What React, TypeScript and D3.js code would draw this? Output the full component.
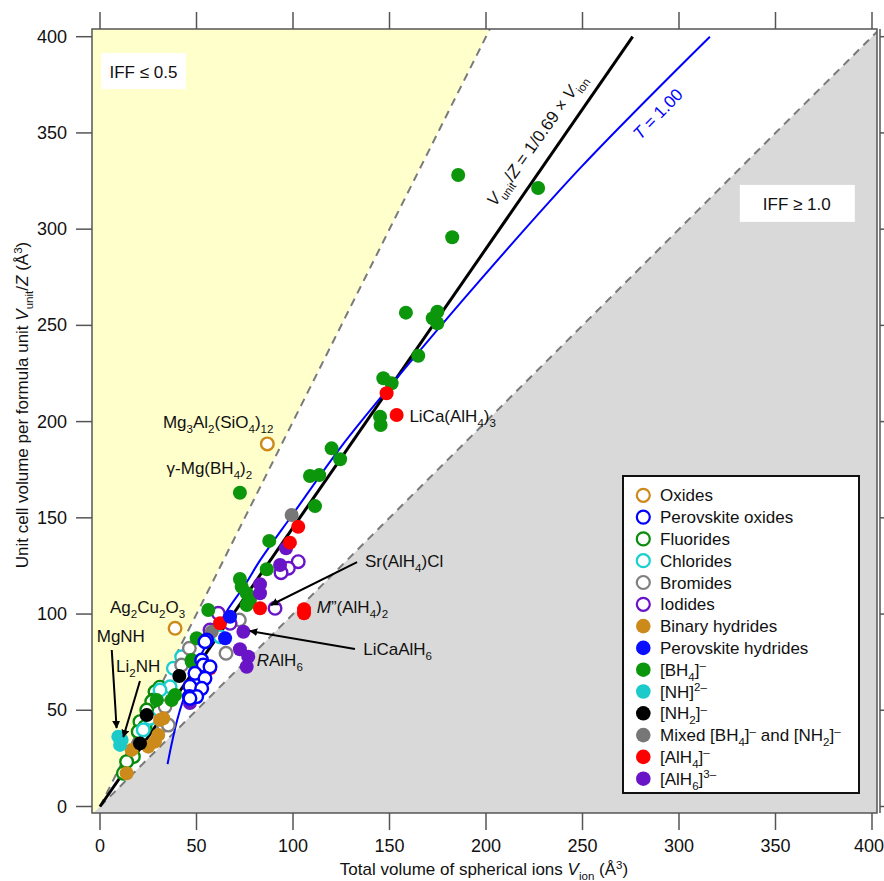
import React from 'react';
import * as d3 from 'd3';

// ---------- data (x = V_ion, y = V_unit/Z) ----------
const xTicks = [0, 50, 100, 150, 200, 250, 300, 350, 400];
const yTicks = [0, 50, 100, 150, 200, 250, 300, 350, 400];

const oxides = [[86.7, 188.4], [38.9, 92.6]];
const perovskiteOxides = [
  [55.3, 86.5], [54.4, 85.6], [52.7, 76.1], [53.5, 73.5], [57, 72.6], [49.2, 69.2],
  [54.4, 66.6], [46.6, 62.4], [52.7, 61.4], [46.3, 57.1], [50.1, 57.1], [46.6, 56.2],
];
const fluorides = [
  [31, 62], [28.5, 59.6], [27.6, 55.3], [26.8, 54.5], [24.2, 50.1], [20.7, 44.1],
  [23.3, 41.5], [19.8, 38.9], [17.3, 25.9], [13.8, 23.3], [12.1, 17.3],
];
const chlorides = [
  [62.2, 88.2], [42.3, 77.8], [38, 71.8], [36.3, 62.2], [31.1, 60.5], [25.9, 45.8], [22.4, 39.8],
];
const bromides = [
  [72.2, 96.9], [65.3, 79.6], [46.3, 82.2], [42.3, 73.5], [33.7, 51.9], [32.8, 42.3], [35.4, 42.3],
];
const iodides = [
  [102.7, 127.2], [97.6, 123.8], [93.8, 121.5], [90.7, 103], [61.3, 100.4], [67.4, 95.2], [57, 91.7],
];
const binaryHydrides = [
  [31.1, 45], [32.8, 45.8], [30.2, 37.2], [28.5, 33.7], [25, 31.1], [16.4, 29.4], [13.8, 17.3],
];
const perovskiteHydrides = [[67.4, 98.6], [64.8, 87.4]];
const bh4 = [
  [185.6, 328.1], [227, 321.4], [182.5, 295.8], [158.5, 256.6], [174.8, 257.1], [172.4, 253.7],
  [174.8, 251.1], [164.9, 234.2], [146.8, 222.5], [151.1, 219.9], [145.1, 202.5], [145.4, 198.2],
  [120, 186.1], [124.4, 180.4], [108.8, 171.7], [113.6, 172.2], [72.5, 163], [111.4, 156.1],
  [87.7, 138], [86.4, 123.3], [72.5, 118.2], [73.4, 114.2], [76, 110.8], [77.7, 107.3],
  [76, 104.7], [56.1, 102.1], [50.1, 87.4], [47.5, 76.1], [47.5, 75.2], [38.9, 57.9],
  [37.1, 55.3], [29.4, 55.3],
];
const nh = [[9.5, 36.3], [11.2, 34.6], [10.4, 32]];
const nh2 = [[41.1, 67.8], [24.2, 47.5], [20.7, 32.8]];
const mixed = [[99.3, 151.5], [57.9, 90.8]];
const alh4 = [
  [148.5, 214.7], [153.7, 203.4], [102.7, 145.4], [98.4, 137.1], [82.9, 103],
  [105.7, 102.5], [105.7, 100.4], [62.2, 95.2], [57, 71.8],
];
const alh6 = [
  [96.4, 134.2], [93.3, 125.5], [82.9, 115.5], [82.9, 110.8], [74.3, 90.8],
  [72.5, 81.7], [76.8, 77.8], [76, 72.6], [46.6, 53.8],
];

// reference lines
const iffHalfLine = [[0, 0], [202, 404]];
const iffOneLine = [[0, 0], [404, 404]];
const fitLine = [[0, 0], [276, 400]];
const tCurve = [
  [35, 22], [37, 32], [40, 45], [43, 55], [47, 66], [52, 78], [58, 89], [66, 102],
  [75, 115], [83, 128], [100, 152], [125, 187], [150, 218], [200, 277], [250, 333], [316, 400],
];

const legendLabels = [
  'Oxides', 'Perovskite oxides', 'Fluorides', 'Chlorides', 'Bromides', 'Iodides',
  'Binary hydrides', 'Perovskite hydrides', '[BH_4]^{–}', '[NH]^{2–}', '[NH_2]^{–}',
  'Mixed [BH_4]^{–} and [NH_2]^{–}', '[AlH_4]^{–}', '[AlH_6]^{3–}',
];
const seriesData = [oxides, perovskiteOxides, fluorides, chlorides, bromides, iodides,
  binaryHydrides, perovskiteHydrides, bh4, nh, nh2, mixed, alh4, alh6];
const seriesColors = ['#cc8a1a', '#0000ff', '#0a8c0a', '#1ccfcf', '#7f7f7f', '#6a14c8',
  '#cc8a1a', '#0a10ff', '#0c960c', '#1ccaca', '#000000', '#777777', '#ff0000', '#6a14c8'];
const seriesOpen = [true, true, true, true, true, true, false, false, false, false, false, false, false, false];
const drawOrder = [2, 3, 4, 5, 0, 6, 8, 9, 10, 11, 13, 12, 7, 1];

// ---------- layout ----------
const W = 884, H = 881;
const F = { left: 92, right: 877, top: 29, bottom: 813 };
const FONT = '"Liberation Sans", Arial, sans-serif';

const x = d3.scaleLinear().domain([0, 400]).range([100, 872]);
const y = d3.scaleLinear().domain([0, 400]).range([806.5, 36.7]);

type Part = { t: string; s: 'n' | 'sub' | 'sup' | 'i' };
function parse(str: string): Part[] {
  const parts: Part[] = [];
  let buf = '';
  let i = 0;
  const flush = () => { if (buf) { parts.push({ t: buf, s: 'n' }); buf = ''; } };
  while (i < str.length) {
    const c = str[i];
    if (c === '_' || c === '^') {
      flush();
      let t = '';
      if (str[i + 1] === '{') {
        const e = str.indexOf('}', i);
        t = str.slice(i + 2, e);
        i = e + 1;
      } else { t = str[i + 1]; i += 2; }
      parts.push({ t, s: c === '_' ? 'sub' : 'sup' });
    } else if (c === '*') {
      flush();
      const e = str.indexOf('*', i + 1);
      parts.push({ t: str.slice(i + 1, e), s: 'i' });
      i = e + 1;
    } else { buf += c; i++; }
  }
  flush();
  return parts;
}

function Rich(props: { x: number; y: number; text: string; size: number; anchor?: string; fill?: string; transform?: string }) {
  const { text, size } = props;
  const parts = parse(text);
  let cur = 0;
  return (
    <text x={props.x} y={props.y} fontSize={size} fontFamily={FONT} textAnchor={props.anchor || 'start'}
      fill={props.fill || '#111'} transform={props.transform}>
      {parts.map((p, k) => {
        const target = p.s === 'sub' ? size * 0.3 : p.s === 'sup' ? -size * 0.38 : 0;
        const dy = target - cur;
        cur = target;
        return (
          <tspan key={k} dy={dy} fontSize={p.s === 'sub' || p.s === 'sup' ? size * 0.68 : undefined}
            fontStyle={p.s === 'i' ? 'italic' : undefined}>{p.t}</tspan>
        );
      })}
    </text>
  );
}

const annotations = [
  { text: 'Mg_3Al_2(SiO_4)_{12}', at: [32.6, 196.5] },
  { text: 'γ-Mg(BH_4)_2', at: [34.5, 172.6] },
  { text: 'LiCa(AlH_4)_3', at: [160.3, 200] },
  { text: 'Sr(AlH_4)Cl', at: [137.3, 124.6] },
  { text: '*M*”(AlH_4)_2', at: [112.3, 100.4] },
  { text: 'LiCaAlH_6', at: [136.4, 78.7] },
  { text: '*R*AlH_6', at: [81.2, 73] },
  { text: 'Ag_2Cu_2O_3', at: [5.2, 100.5] },
  { text: 'MgNH', at: [-1.7, 85.6] },
  { text: 'Li_2NH', at: [8.3, 70] },
];
const arrows = [
  [[6.1, 81.3], [8.6, 40.8]],
  [[20.7, 65.2], [12.1, 36.1]],
  [[133.2, 127], [88.6, 104.7]],
  [[132.1, 81.8], [77.7, 91.2]],
];

export default function App() {
  const line = d3.line<number[]>().x(d => x(d[0])).y(d => y(d[1]));
  const curve = d3.line<number[]>().x(d => x(d[0])).y(d => y(d[1])).curve(d3.curveCatmullRom.alpha(0.5));
  const poly = (pts: number[][]) => pts.map(p => `${x(p[0])},${y(p[1])}`).join(' ');

  const legendTop = 495.3, legendStep = 21.8;

  return (
    <svg width={W} height={H} style={{ position: 'absolute', left: 0, top: 0, background: '#fff' }}>
      <defs>
        <clipPath id="plot"><rect x={F.left} y={F.top} width={F.right - F.left} height={F.bottom - F.top} /></clipPath>
        <marker id="ah" viewBox="0 0 10 10" refX="9" refY="5" markerWidth="8" markerHeight="8" orient="auto" markerUnits="userSpaceOnUse">
          <path d="M0,0 L10,5 L0,10 z" fill="#000" />
        </marker>
      </defs>

      <g clipPath="url(#plot)">
        <rect x={F.left} y={F.top} width={F.right - F.left} height={F.bottom - F.top} fill="#fff" />
        <polygon points={poly([[-10, -20], [212, 424], [-10, 424]])} fill="#ffffcc" />
        <polygon points={poly([[-10, -10], [412, 412], [412, -10]])} fill="#d9d9d9" />
        <path d={line(iffHalfLine) || ''} stroke="#7a7a7a" strokeWidth={2} strokeDasharray="8,6" fill="none" />
        <path d={line(iffOneLine) || ''} stroke="#7a7a7a" strokeWidth={2} strokeDasharray="8,6" fill="none" />
        <path d={line(fitLine) || ''} stroke="#000" strokeWidth={3} fill="none" />
        <path d={curve(tCurve) || ''} stroke="#0000ff" strokeWidth={2} fill="none" />

        {drawOrder.map(si => (
          <g key={si}>
            {seriesData[si].map((d, k) => seriesOpen[si] ? (
              <circle key={k} cx={x(d[0])} cy={y(d[1])} r={6.3} fill="#fff" stroke={seriesColors[si]} strokeWidth={2.4} />
            ) : (
              <circle key={k} cx={x(d[0])} cy={y(d[1])} r={7} fill={seriesColors[si]} />
            ))}
          </g>
        ))}

        {/* IFF boxes */}
        <rect x={x(0.5)} y={y(391.5)} width={85} height={36} fill="#fff" />
        <text x={x(22.5)} y={y(391.5) + 25} fontSize={17} fontFamily={FONT} textAnchor="middle" fill="#111">IFF ≤ 0.5</text>
        <rect x={x(331.5)} y={y(323)} width={115} height={37} fill="#fff" />
        <text x={x(331.5) + 57} y={y(323) + 25} fontSize={17} fontFamily={FONT} textAnchor="middle" fill="#111">IFF ≥ 1.0</text>

        {annotations.map((a, k) => (
          <Rich key={k} x={x(a.at[0])} y={y(a.at[1])} text={a.text} size={17} />
        ))}
        {arrows.map((a, k) => (
          <line key={k} x1={x(a[0][0])} y1={y(a[0][1])} x2={x(a[1][0])} y2={y(a[1][1])}
            stroke="#000" strokeWidth={2} markerEnd="url(#ah)" />
        ))}

        <Rich x={541} y={143} text="*V*_{unit}/*Z* = 1/0.69 × *V*_{ion}" size={17} anchor="middle"
          transform="rotate(-54.5 541 143)" />
        <Rich x={662} y={118} text="*T* = 1.00" size={17} anchor="middle" fill="#0000ff"
          transform="rotate(-46 662 118)" />

        {/* legend */}
        <rect x={623} y={476} width={236} height={317} fill="#fff" stroke="#111" strokeWidth={2} />
        {legendLabels.map((lab, k) => {
          const cy = legendTop + k * legendStep;
          return (
            <g key={k}>
              {seriesOpen[k]
                ? <circle cx={643.3} cy={cy} r={6.5} fill="#fff" stroke={seriesColors[k]} strokeWidth={2.2} />
                : <circle cx={643.3} cy={cy} r={7.3} fill={seriesColors[k]} />}
              <Rich x={660} y={cy + 6} text={lab} size={17} />
            </g>
          );
        })}
      </g>

      {/* frame & axes */}
      <rect x={F.left} y={F.top} width={F.right - F.left} height={F.bottom - F.top} fill="none" stroke="#555" strokeWidth={1.5} />
      <line x1={880} x2={880} y1={F.top} y2={F.bottom} stroke="#555" strokeWidth={1.5} />
      {yTicks.map(t => (
        <g key={'y' + t}>
          <line x1={76} x2={F.left} y1={y(t)} y2={y(t)} stroke="#555" strokeWidth={1.5} />
          <line x1={880} x2={890} y1={y(t)} y2={y(t)} stroke="#555" strokeWidth={1.5} />
          <text x={67} y={y(t) + 6} fontSize={18} fontFamily={FONT} textAnchor="end" fill="#111">{t}</text>
        </g>
      ))}
      {xTicks.map(t => (
        <g key={'x' + t}>
          <line x1={x(t)} x2={x(t)} y1={F.bottom} y2={F.bottom + 17} stroke="#555" strokeWidth={1.5} />
          <line x1={x(t)} x2={x(t)} y1={12} y2={F.top} stroke="#555" strokeWidth={1.5} />
          <text x={t === 400 ? 884 : x(t)} y={852} fontSize={18} fontFamily={FONT} textAnchor={t === 400 ? 'end' : 'middle'} fill="#111">{t}</text>
        </g>
      ))}
      <Rich x={484} y={875} text="Total volume of spherical ions *V*_{ion} (Å^3)" size={17} anchor="middle" />
      <Rich x={28} y={405} text="Unit cell volume per formula unit *V*_{unit}/*Z* (Å^3)" size={17} anchor="middle"
        transform="rotate(-90 28 405)" />
    </svg>
  );
}
